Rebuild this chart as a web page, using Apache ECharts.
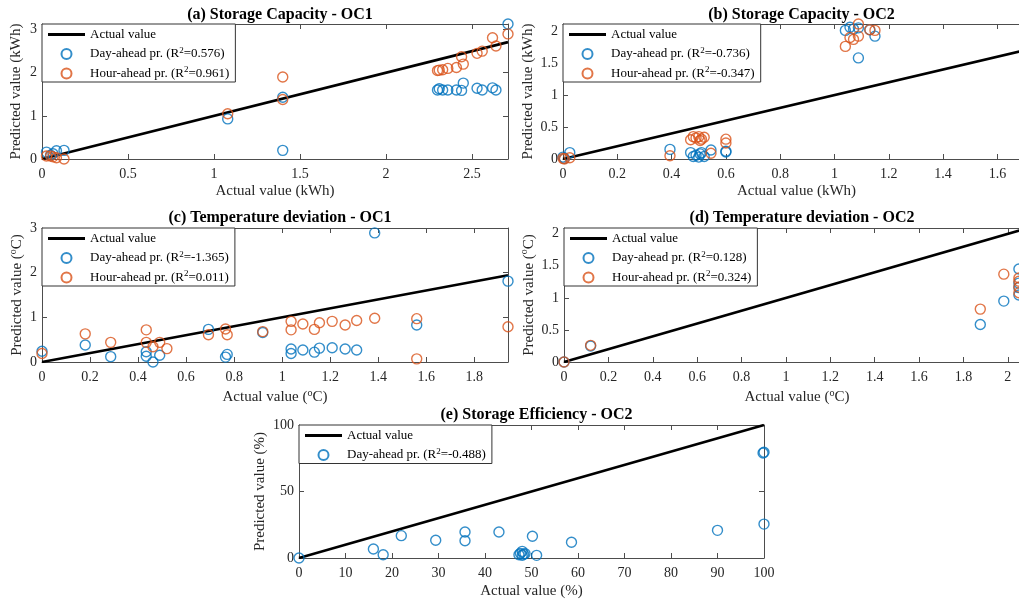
<!DOCTYPE html>
<html><head><meta charset="utf-8">
<script src="https://cdn.jsdelivr.net/npm/echarts@6/dist/echarts.min.js"></script>
<style>html,body{margin:0;padding:0;background:#fff}#c{width:1019px;height:602px}</style>
</head><body><div id="c"></div><script>
// ---------- DATA ----------
const titles = ['(a) Storage Capacity - OC1', '(b) Storage Capacity - OC2', '(c) Temperature deviation - OC1', '(d) Temperature deviation - OC2', '(e) Storage Efficiency - OC2'];
const r2Day  = ['0.576', '-0.736', '-1.365', '0.128', '-0.488'];
const r2Hour = ['0.961', '-0.347', '0.011', '0.324', null];
const units  = ['kWh', 'kWh', 'degC', 'degC', '%'];

// (a) Storage Capacity - OC1 (kWh)
const aActual = [0.026, 0.05, 0.064, 0.084, 0.128, 1.08, 1.40, 1.40, 2.30, 2.31, 2.33, 2.36, 2.41, 2.44, 2.45, 2.53, 2.56, 2.62, 2.64, 2.71];
const aDay    = [0.16, 0.09, 0.12, 0.19, 0.20, 0.93, 1.43, 0.20, 1.60, 1.63, 1.60, 1.60, 1.60, 1.59, 1.76, 1.64, 1.60, 1.65, 1.60, 3.13];
const aHour   = [0.07, 0.07, 0.05, 0.03, 0.00, 1.05, 1.90, 1.38, 2.05, 2.06, 2.07, 2.10, 2.12, 2.37, 2.20, 2.45, 2.50, 2.81, 2.62, 2.90];

// (b) Storage Capacity - OC2 (kWh)
const bActual = [0, 0.005, 0.025, 0.394, 0.47, 0.48, 0.49, 0.50, 0.505, 0.51, 0.52, 0.545, 0.60, 0.60, 1.04, 1.057, 1.07, 1.088, 1.088, 1.13, 1.149];
const bDay    = [0.03, 0.01, 0.10, 0.15, 0.10, 0.04, 0.06, 0.03, 0.08, 0.10, 0.04, 0.14, 0.11, 0.12, 2.01, 2.06, 2.03, 2.05, 1.58, 2.02, 1.92];
const bHour   = [0.01, 0.00, 0.02, 0.05, 0.30, 0.35, 0.33, 0.35, 0.29, 0.31, 0.34, 0.09, 0.31, 0.25, 1.76, 1.90, 1.87, 1.92, 2.11, 2.02, 2.01];

// (c) Temperature deviation - OC1 (degC)
const cActual = [0, 0.18, 0.286, 0.434, 0.434, 0.462, 0.49, 0.52, 0.693, 0.764, 0.771, 0.919, 1.037, 1.037, 1.086, 1.134, 1.155, 1.208, 1.262, 1.31, 1.385, 1.56, 1.56, 1.94];
const cDay    = [0.24, 0.38, 0.12, 0.23, 0.13, 0.00, 0.15, null, 0.73, 0.11, 0.17, 0.66, 0.29, 0.19, 0.27, 0.22, 0.31, 0.32, 0.29, 0.27, 2.89, 0.83, null, 1.81];
const cHour   = [0.19, 0.63, 0.44, 0.72, 0.44, 0.34, 0.44, 0.30, 0.61, 0.74, 0.61, 0.68, 0.91, 0.72, 0.85, 0.73, 0.88, 0.91, 0.83, 0.93, 0.98, 0.97, 0.07, 0.79];

// (d) Temperature deviation - OC2 (degC)
const dActual = [0, 0.12, 1.876, 1.982, 2.05, 2.05, 2.05, 2.05];
const dDay    = [0, 0.25, 0.585, 0.95, 1.45, 1.23, 1.045, 1.16];
const dHour   = [0, 0.26, 0.825, 1.37, 1.31, 1.17, 1.08, 1.26];

// (e) Storage Efficiency - OC2 (%)
const eActual = [0, 16.0, 18.1, 22.0, 29.4, 35.7, 35.7, 43.0, 47.3, 47.6, 48.0, 48.0, 48.3, 48.6, 50.2, 51.1, 58.6, 90.0, 99.8, 100, 100];
const eDay    = [0, 6.8, 2.5, 16.8, 13.3, 19.5, 13.0, 19.5, 2.5, 3.5, 5.0, 2.0, 2.8, 3.3, 16.3, 2.0, 11.8, 20.8, 79.0, 79.5, 25.5];
const eHour   = null;

// axis ranges [min, max, interval]
const xRanges = [[0, 2.71, 0.5], [0, 1.72, 0.2], [0, 1.94, 0.2], [0, 2.1, 0.2], [0, 100, 10]];
const yRanges = [[0, 3.13, 1], [0, 2.11, 0.5], [0, 3, 1], [0, 2.09, 0.5], [0, 100, 50]];

// ---------- LAYOUT / STYLE ----------
const FONT = '"Liberation Serif","Times New Roman","DejaVu Serif",serif';
const BLUE = '#0072BD', ORANGE = '#D95319', AX = '#4d4d4d', TXT = '#262626';
const grids = [
  {left: 42,  top: 24,  width: 466, height: 135},
  {left: 563, top: 24,  width: 467, height: 135},
  {left: 42,  top: 228, width: 466, height: 134},
  {left: 564, top: 228, width: 466, height: 134},
  {left: 299, top: 425, width: 465, height: 133}
];
const yNameGaps = [17, 26, 16, 25, 23];
const xNameGaps = [23, 23, 26, 26, 24];
const titleTops = [2, 2, 205, 205, 402];

const panelActual = [aActual, bActual, cActual, dActual, eActual];
const panelDay = [aDay, bDay, cDay, dDay, eDay];
const panelHour = [aHour, bHour, cHour, dHour, eHour];

function pairs(xs, ys) {
  const out = [];
  xs.forEach((x, i) => { if (ys[i] !== null && ys[i] !== undefined) out.push([x, ys[i]]); });
  return out;
}
function fmt(interval) {
  return v => {
    const k = v / interval;
    if (Math.abs(k - Math.round(k)) > 1e-6) return '';
    return String(parseFloat(v.toFixed(4)));
  };
}
function unitText(u) { return u === 'degC' ? '({s|o}C)' : '(' + u + ')'; }

const nameStyle = {
  fontFamily: FONT, fontSize: 15, color: TXT, lineHeight: 18,
  rich: { s: { fontFamily: FONT, fontSize: 10, color: TXT, lineHeight: 10, verticalAlign: 'top' } }
};
const legendRich = {
  n: { fontFamily: FONT, fontSize: 13, color: '#000', lineHeight: 16 },
  s: { fontFamily: FONT, fontSize: 9, color: '#000', lineHeight: 9, verticalAlign: 'top' }
};

const option = {
  backgroundColor: '#fff', animation: false,
  title: [], grid: [], xAxis: [], yAxis: [], series: [], legend: []
};

for (let i = 0; i < 5; i++) {
  const g = grids[i];
  const [xmin, xmax, xi] = xRanges[i];
  const [ymin, ymax, yi] = yRanges[i];
  option.grid.push(Object.assign({show: false, containLabel: false, outerBoundsMode: 'none'}, g));
  option.title.push({
    text: titles[i], left: g.left + g.width / 2, top: titleTops[i], textAlign: 'center',
    textStyle: { fontFamily: FONT, fontWeight: 'bold', fontSize: 16, color: '#000' }
  });
  const baseAxis = (min, max, interval) => ({
    gridIndex: i, type: 'value', min, max, interval,
    axisLine: { show: true, onZero: false, lineStyle: { color: AX, width: 1 } },
    axisTick: { show: true, inside: true, length: 5, lineStyle: { color: AX } },
    splitLine: { show: false }
  });
  option.xAxis.push(Object.assign(baseAxis(xmin, xmax, xi), {
    position: 'bottom',
    axisLabel: { color: TXT, fontFamily: FONT, fontSize: 14, margin: 8, formatter: fmt(xi) },
    name: 'Actual value ' + unitText(units[i]), nameLocation: 'middle', nameGap: xNameGaps[i], nameTextStyle: nameStyle
  }));
  option.xAxis.push(Object.assign(baseAxis(xmin, xmax, xi), { position: 'top', axisLabel: { show: false } }));
  option.yAxis.push(Object.assign(baseAxis(ymin, ymax, yi), {
    position: 'left',
    axisLabel: { color: TXT, fontFamily: FONT, fontSize: 14, margin: 5, formatter: fmt(yi) },
    name: 'Predicted value ' + unitText(units[i]), nameLocation: 'middle', nameGap: yNameGaps[i], nameTextStyle: nameStyle
  }));
  option.yAxis.push(Object.assign(baseAxis(ymin, ymax, yi), { position: 'right', axisLabel: { show: false } }));

  const xa = 2 * i, ya = 2 * i;
  option.series.push({
    type: 'line', name: 'Actual value', xAxisIndex: xa, yAxisIndex: ya,
    data: [[xmin, xmin], [xmax, xmax]], symbol: 'none', silent: true, z: 2,
    lineStyle: { color: '#000', width: 2.6 }, itemStyle: { color: '#000' }
  });
  const names = [{ name: 'Actual value', icon: 'path://M0,0 H40 V3.2 H0 Z', itemStyle: { color: '#000', borderWidth: 0 } }];
  const dayName = 'Day-ahead pr. (R²=' + r2Day[i] + ')';
  names.push(dayName);
  option.series.push({
    type: 'scatter', name: dayName, xAxisIndex: xa, yAxisIndex: ya, clip: false, z: 3,
    data: pairs(panelActual[i], panelDay[i]), symbol: 'circle', symbolSize: 10,
    itemStyle: { color: 'rgba(255,255,255,0)', borderColor: BLUE, borderWidth: 1.4 },
    emphasis: { disabled: true }
  });
  if (panelHour[i]) {
    const hourName = 'Hour-ahead pr. (R²=' + r2Hour[i] + ')';
    names.push(hourName);
    option.series.push({
      type: 'scatter', name: hourName, xAxisIndex: xa, yAxisIndex: ya, clip: false, z: 3,
      data: pairs(panelActual[i], panelHour[i]), symbol: 'circle', symbolSize: 10,
      itemStyle: { color: 'rgba(255,255,255,0)', borderColor: ORANGE, borderWidth: 1.4 },
      emphasis: { disabled: true }
    });
  }
  option.legend.push({
    left: g.left, top: g.top, orient: 'vertical', data: names, selectedMode: false,
    backgroundColor: '#fff', borderColor: '#333', borderWidth: 1,
    padding: [4, 6, 2, 6], itemGap: 5, itemWidth: 37, itemHeight: 10, z: 10,
    textStyle: { fontFamily: FONT, fontSize: 13, color: '#000', rich: legendRich },
    formatter: name => '{n|' + name.replace('²', '}{s|2}{n|') + '}'
  });
}

const chart = echarts.init(document.getElementById('c'), null, { renderer: 'canvas' });
chart.setOption(option);
</script></body></html>
